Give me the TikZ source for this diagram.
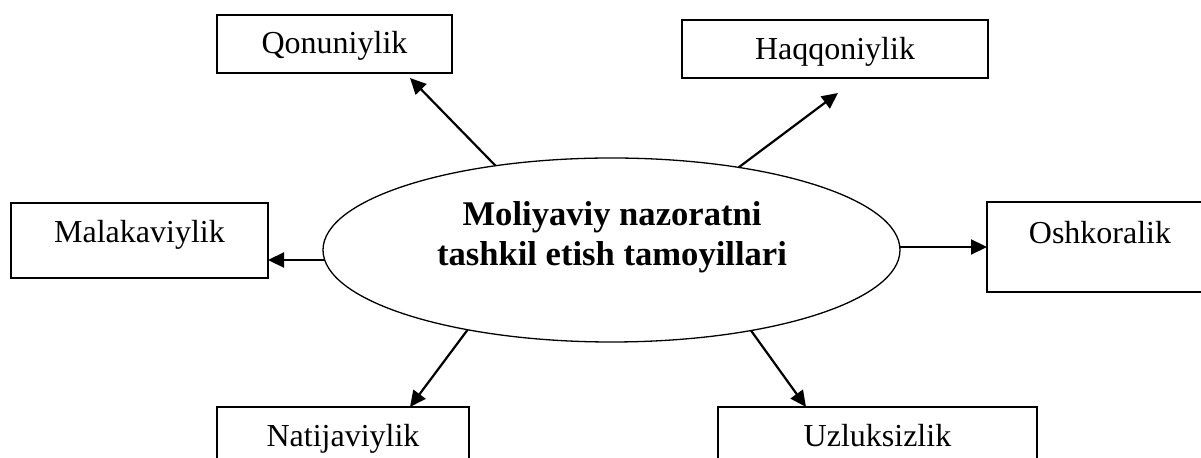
\documentclass[tikz,border=0pt]{standalone}
\usepackage{fontspec}
\setmainfont{Liberation Serif}
\usetikzlibrary{shapes.geometric,arrows.meta}
\begin{document}
\begin{tikzpicture}[x=0.5pt,y=-0.5pt,
    every node/.style={font=\fontsize{16}{19}\selectfont, inner sep=0pt, outer sep=0pt},
    box/.style={draw, line width=0.85pt, text height=12pt},
    link/.style={line width=1.1pt, -{Triangle[length=8pt,width=7.5pt]}}]
    \useasboundingbox (0,0) rectangle (1201,458);
    \clip (0,0) rectangle (1201,458);
    \node[ellipse, draw, line width=0.65pt, minimum width=288.5pt, minimum height=92pt] (ell) at (611.5,250) {};
    \node[font=\fontsize{17.3}{20}\selectfont\bfseries, align=center] (title) at (612,237) {Moliyaviy nazoratni\\tashkil etish tamoyillari};
    \node[box, minimum width=117.5pt, minimum height=29pt, text depth=2pt] (qon) at (334.5,44) {Qonuniylik};
    \node[box, minimum width=153pt, minimum height=29pt, text depth=1pt] (haq) at (835,49) {Haqqoniylik};
    \node[box, minimum width=128.5pt, minimum height=37.5pt, text depth=9.5pt] (mal) at (139.5,240.5) {Malakaviylik};
    \node[box, minimum width=113pt, minimum height=45pt, text depth=15pt] (osh) at (1100,247) {Oshkoralik};
    \node[box, minimum width=126pt, minimum height=37.5pt, text depth=9.5pt] (nat) at (343,444.5) {Natijaviylik};
    \node[box, minimum width=159.5pt, minimum height=37.5pt, text depth=9.5pt] (uzl) at (877.5,444.5) {Uzluksizlik};
    \coordinate (qontip) at (410,78);
    \coordinate (haqtip) at (838,93);
    \coordinate (nattip) at (410,407);
    \coordinate (uzltip) at (806,407);
    \draw[link] (ell.144.4) -- (qontip);
    \draw[link] (ell.33.9) -- (haqtip);
    \draw[link] (ell.182.2) -- (ell.182.2 -| mal.east);
    \draw[link] (ell.east |- osh.west) -- (osh.west);
    \draw[link] (ell.209.5) -- (nattip);
    \draw[link] (ell.330.3) -- (uzltip);
\end{tikzpicture}
\end{document}
